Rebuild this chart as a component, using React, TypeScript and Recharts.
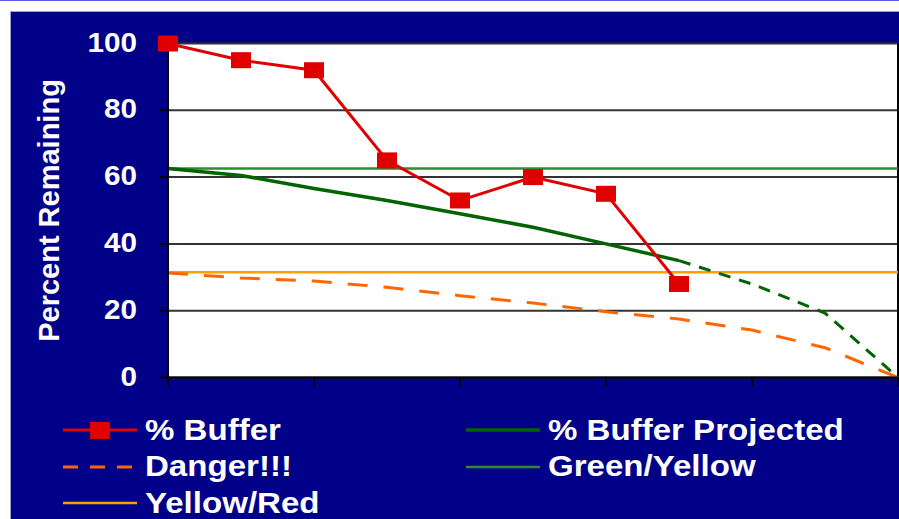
import React from 'react';
import { LineChart, Line, XAxis, YAxis, CartesianGrid, Legend, ReferenceLine } from 'recharts';

// reporting periods along the x axis (no labels shown on the original)
const periods = [0, 1, 2, 3, 4, 5, 6, 7, 8, 9, 10];
const bufferPct = [100, 95, 92, 65, 53, 60, 55, 28, null, null, null];
const projectedPct = [62.6, 60.5, 56.6, 53, 49, 45, 40, 35, null, null, null];
const projectedTail = [null, null, null, null, null, null, null, 35, 28, 19.3, 0];
const dangerPct = [31.3, 29.8, 28.9, 27, 24.5, 22.3, 19.7, 17.5, 14.2, 8.9, 0];
const greenYellow = [62.6, 62.6, 62.6, 62.6, 62.6, 62.6, 62.6, 62.6, 62.6, 62.6, 62.6];
const yellowRed = [31.5, 31.5, 31.5, 31.5, 31.5, 31.5, 31.5, 31.5, 31.5, 31.5, 31.5];
const yTicks = [0, 20, 40, 60, 80, 100];
const xTicks = [0, 2, 4, 6, 8, 10];

const legendOrder = ['% Buffer', '% Buffer Projected', 'Danger!!!', 'Green/Yellow', 'Yellow/Red'];

const FONT = "'Liberation Sans', Arial, sans-serif";
const NAVY = '#000088';

const data = periods.map((p, i) => ({
  period: p,
  buffer: bufferPct[i],
  projected: projectedPct[i],
  projectedTail: projectedTail[i],
  danger: dangerPct[i],
  greenYellow: greenYellow[i],
  yellowRed: yellowRed[i],
}));

const SquareDot = (props: any) => {
  const { cx, cy, value } = props;
  if (value == null || cx == null || cy == null) return null;
  return <rect x={cx - 10} y={cy - 8} width={20} height={16} fill="#e00000" />;
};

// x axis has tick marks but no labels
const NoLabel = () => <g />;

const YTick = ({ x, y, payload }: any) => (
  <text
    transform={`translate(${x},${y - 1.5}) scale(1.1,1)`}
    textAnchor="end"
    dominantBaseline="central"
    fill="#fff"
    fontFamily={FONT}
    fontWeight="bold"
    fontSize={27}
  >
    {payload.value}
  </text>
);

const YLabel = ({ viewBox }: any) => {
  const cx = 49;
  const cy = viewBox.y + viewBox.height / 2;
  return (
    <text
      x={cx}
      y={cy}
      transform={`rotate(-90, ${cx}, ${cy})`}
      textAnchor="middle"
      dominantBaseline="central"
      fill="#fff"
      fontFamily={FONT}
      fontWeight="bold"
      fontSize={29}
    >
      Percent Remaining
    </text>
  );
};

const LegendIcon = ({ name, color }: { name: string; color: string }) => {
  if (name === '% Buffer') {
    return (
      <svg width={74} height={20}>
        <line x1={0} y1={10} x2={74} y2={10} stroke={color} strokeWidth={3} />
        <rect x={27} y={2} width={20} height={17} fill={color} />
      </svg>
    );
  }
  if (name === 'Danger!!!') {
    return (
      <svg width={74} height={20}>
        <line x1={0} y1={10} x2={74} y2={10} stroke={color} strokeWidth={3} strokeDasharray="15 12" />
      </svg>
    );
  }
  const w = name === '% Buffer Projected' ? 3.5 : 2.5;
  return (
    <svg width={74} height={20}>
      <line x1={0} y1={10} x2={74} y2={10} stroke={color} strokeWidth={w} />
    </svg>
  );
};

const LegendBox = ({ payload }: any) => {
  const items = legendOrder
    .map((n) => (payload || []).find((p: any) => p.value === n))
    .filter(Boolean);
  return (
    <div style={{ position: 'relative', width: 899, height: 110 }}>
      {items.map((it: any, i: number) => {
        const col = i % 2;
        const row = Math.floor(i / 2);
        return (
          <div
            key={it.value}
            style={{
              position: 'absolute',
              left: col === 0 ? 63 : 466,
              top: row * 36.5,
              height: 36,
              display: 'flex',
              alignItems: 'center',
              whiteSpace: 'nowrap',
            }}
          >
            <LegendIcon name={it.value} color={it.color} />
            <span
              style={{
                marginLeft: 8,
                color: '#fff',
                fontFamily: FONT,
                fontWeight: 'bold',
                fontSize: 29,
                display: 'inline-block',
                transform: 'scaleX(1.14)',
                transformOrigin: 'left center',
              }}
            >
              {it.value}
            </span>
          </div>
        );
      })}
    </div>
  );
};

export default function App() {
  return (
    <div style={{ position: 'absolute', left: 0, top: 0, width: 899, height: 519, background: '#fff', overflow: 'hidden' }}>
      <div style={{ position: 'absolute', left: 0, top: 0, width: 899, height: 1, background: '#5a5ae6' }} />
      <div
        style={{
          position: 'absolute',
          left: 10,
          top: 11,
          width: 889,
          height: 508,
          background: NAVY,
          borderLeft: '1px solid #a0a0c8',
          borderTop: '1px solid #a0a0c8',
          boxSizing: 'border-box',
        }}
      />
      <div style={{ position: 'absolute', left: 0, top: 0 }}>
        <LineChart width={899} height={519} data={data} margin={{ top: 43.5, right: 1, bottom: 131.5, left: 0 }}>
          <CartesianGrid vertical={false} stroke="#333" strokeWidth={2} fill="#fff" />
          <XAxis
            dataKey="period"
            type="number"
            domain={[0, 10]}
            ticks={xTicks}
            interval={0}
            height={10}
            tick={<NoLabel />}
            tickSize={9}
            axisLine={{ stroke: '#000', strokeWidth: 2 }}
            tickLine={{ stroke: '#000', strokeWidth: 2 }}
          />
          <YAxis
            type="number"
            domain={[0, 100]}
            ticks={yTicks}
            interval={0}
            width={168}
            tickSize={9}
            tickMargin={22}
            tick={<YTick />}
            axisLine={{ stroke: '#000', strokeWidth: 2 }}
            tickLine={{ stroke: '#000', strokeWidth: 2 }}
            label={<YLabel />}
          />
          <ReferenceLine x={10} stroke="#000" strokeWidth={2} />
          <Line name="Green/Yellow" dataKey="greenYellow" type="linear" stroke="#2e8b2e" strokeWidth={2.5} dot={false} isAnimationActive={false} />
          <Line name="Yellow/Red" dataKey="yellowRed" type="linear" stroke="#ffa000" strokeWidth={2.5} dot={false} isAnimationActive={false} />
          <Line name="Danger!!!" dataKey="danger" type="linear" stroke="#ff6600" strokeWidth={3} strokeDasharray="20 16" dot={false} isAnimationActive={false} />
          <Line name="% Buffer Projected" dataKey="projected" type="linear" stroke="#006400" strokeWidth={3.5} dot={false} isAnimationActive={false} />
          <Line
            name="projected tail"
            dataKey="projectedTail"
            type="linear"
            stroke="#006400"
            strokeWidth={3}
            strokeDasharray="12 9"
            dot={false}
            legendType="none"
            isAnimationActive={false}
          />
          <Line name="% Buffer" dataKey="buffer" type="linear" stroke="#e00000" strokeWidth={3} dot={<SquareDot />} isAnimationActive={false} />
          <Legend
            layout="horizontal"
            verticalAlign="middle"
            align="center"
            wrapperStyle={{ top: 412, left: 0, width: 899 }}
            content={<LegendBox />}
          />
        </LineChart>
      </div>
    </div>
  );
}
